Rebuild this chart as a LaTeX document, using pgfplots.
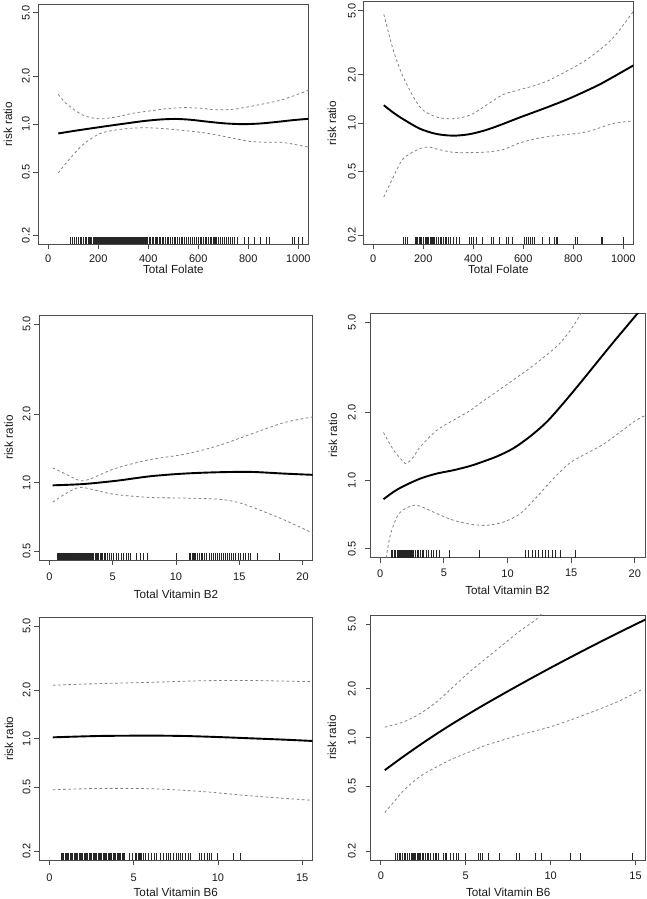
\documentclass[border=0pt]{standalone}
\usepackage{pgfplots}
\pgfplotsset{compat=1.18}
\usepackage{fontspec}
\setmainfont{Liberation Sans}
\pgfplotsset{
  myrrbase/.style={
    scale only axis, yminorticks=false, xminorticks=false,
    tick align=outside, major tick length=5bp,
    xtick pos=bottom, ytick pos=left,
    axis line style={black!70, line width=0.8bp},
    every tick/.style={black!70, line width=0.8bp},
    tick label style={font=\fontsize{11bp}{13bp}\selectfont, text=black!90},
    xticklabel style={anchor=north, inner sep=0pt},
    yticklabel style={rotate=90, anchor=south, inner sep=0pt},
    label style={font=\fontsize{11.7bp}{14bp}\selectfont, text=black!90},
    ylabel={risk ratio},
    clip=true,
  },
  myxlab/.style={xlabel style={at={([yshift=-#1]axis description cs:0.5,0)}, anchor=north, inner sep=0pt}},
  myylab/.style={ylabel style={at={([xshift=-#1]axis description cs:0,0.5)}, anchor=center, inner sep=0pt}},
  myfitline/.style={black, line width=1.9bp, smooth, no marks},
  myciline/.style={black!50, line width=0.8bp, dash pattern=on 2.6bp off 2.6bp, smooth, no marks},
  myrugmarks/.style={only marks, mark=|, mark size=3.6bp, mark options={black!85, line width=0.6bp}},
}
\begin{document}
\begin{tikzpicture}
\useasboundingbox (0,0) rectangle (647bp,899bp);
% ---------- Panel 1 ----------
\begin{axis}[ymode=log, myrrbase, at={(38.3bp,654.7bp)}, anchor=south west, width=270bp, height=240.3bp,
  ymin=0.17585, ymax=5.6866, ytick={0.2,0.5,1,2,5}, yticklabels={0.2,0.5,1.0,2.0,5.0},
  xmin=-40, xmax=1040, xtick={0,200,400,600,800,1000}, xticklabels={0,200,400,600,800,1000},
  xlabel={Total Folate}, myxlab=21bp, myylab=30.3bp, xticklabel shift=5bp, yticklabel shift=3.3bp]
\addplot[myciline] coordinates {(40,1.54)(71,1.35)(138,1.14)(205,1.08)(272,1.11)(338,1.17)(405,1.21)(472,1.25)(539,1.27)(606,1.26)(672,1.23)(740,1.24)(806,1.29)(870,1.35)(940,1.43)(1040,1.63)};
\addplot[myciline] coordinates {(40,0.493)(71,0.569)(138,0.742)(205,0.87)(272,0.92)(338,0.944)(405,0.948)(472,0.935)(539,0.913)(606,0.89)(672,0.857)(740,0.815)(806,0.779)(870,0.77)(940,0.767)(1040,0.717)};
\addplot[myfitline] coordinates {(40,0.874)(100,0.905)(170,0.94)(240,0.975)(310,1.01)(380,1.045)(450,1.07)(510,1.078)(570,1.065)(640,1.035)(710,1.01)(780,1.0)(850,1.01)(920,1.035)(980,1.06)(1040,1.08)};
\addplot[myrugmarks] coordinates {(86,0.185)(95,0.185)(104,0.185)(112,0.185)(120,0.185)(126,0.185)(133,0.185)(140,0.185)(146,0.185)(152,0.185)(158,0.185)(163,0.185)(168,0.185)(173,0.185)(178,0.185)(183,0.185)(188,0.185)(192,0.185)(197,0.185)(201,0.185)(205,0.185)(209,0.185)(213,0.185)(217,0.185)(221,0.185)(225,0.185)(229,0.185)(233,0.185)(237,0.185)(241,0.185)(245,0.185)(249,0.185)(253,0.185)(257,0.185)(261,0.185)(265,0.185)(269,0.185)(273,0.185)(277,0.185)(281,0.185)(285,0.185)(289,0.185)(293,0.185)(297,0.185)(301,0.185)(305,0.185)(309,0.185)(313,0.185)(317,0.185)(321,0.185)(325,0.185)(329,0.185)(333,0.185)(337,0.185)(341,0.185)(345,0.185)(349,0.185)(353,0.185)(357,0.185)(361,0.185)(365,0.185)(369,0.185)(373,0.185)(377,0.185)(381,0.185)(385,0.185)(389,0.185)(393,0.185)(397,0.185)(402,0.185)(408,0.185)(414,0.185)(420,0.185)(426,0.185)(431,0.185)(437,0.185)(443,0.185)(449,0.185)(455,0.185)(461,0.185)(468,0.185)(475,0.185)(481,0.185)(488,0.185)(495,0.185)(502,0.185)(508,0.185)(515,0.185)(522,0.185)(530,0.185)(537,0.185)(545,0.185)(552,0.185)(560,0.185)(568,0.185)(575,0.185)(583,0.185)(590,0.185)(598,0.185)(606,0.185)(613,0.185)(620,0.185)(627,0.185)(633,0.185)(640,0.185)(646,0.185)(652,0.185)(658,0.185)(663,0.185)(668,0.185)(673,0.185)(680,0.185)(688,0.185)(695,0.185)(703,0.185)(710,0.185)(718,0.185)(726,0.185)(735,0.185)(745,0.185)(755,0.185)(785,0.185)(800,0.185)(822,0.185)(848,0.185)(870,0.185)(882,0.185)(975,0.185)(985,0.185)(1000,0.185)(1017,0.185)};
\end{axis}
% ---------- Panel 2 ----------
\begin{axis}[ymode=log, myrrbase, at={(363.3bp,654.7bp)}, anchor=south west, width=270bp, height=242.6bp,
  ymin=0.17585, ymax=5.6866, ytick={0.2,0.5,1,2,5}, yticklabels={0.2,0.5,1.0,2.0,5.0},
  xmin=-40, xmax=1040, xtick={0,200,400,600,800,1000}, xticklabels={0,200,400,600,800,1000},
  xlabel={Total Folate}, myxlab=21bp, myylab=31.3bp, xticklabel shift=5bp, yticklabel shift=2.3bp]
\addplot[myciline] coordinates {(42,4.75)(80,2.84)(120,1.93)(186,1.26)(252,1.09)(319,1.064)(385,1.116)(452,1.29)(518,1.50)(584,1.61)(651,1.72)(717,1.89)(850,2.46)(956,3.35)(1040,4.95)};
\addplot[myciline] coordinates {(42,0.346)(80,0.461)(120,0.60)(186,0.692)(226,0.708)(252,0.689)(319,0.657)(385,0.654)(452,0.659)(518,0.682)(584,0.75)(651,0.799)(717,0.83)(850,0.879)(956,0.99)(1040,1.03)};
\addplot[myfitline] coordinates {(42,1.29)(80,1.16)(120,1.055)(186,0.922)(252,0.855)(319,0.834)(385,0.852)(452,0.905)(518,0.985)(584,1.08)(651,1.18)(717,1.29)(784,1.42)(850,1.58)(903,1.73)(956,1.92)(1040,2.28)};
\addplot[myrugmarks] coordinates {(120,0.185)(126,0.185)(135,0.185)(169,0.185)(173,0.185)(177,0.185)(182,0.185)(186,0.185)(193,0.185)(199,0.185)(206,0.185)(210,0.185)(215,0.185)(220,0.185)(226,0.185)(230,0.185)(235,0.185)(239,0.185)(243,0.185)(252,0.185)(259,0.185)(266,0.185)(272,0.185)(279,0.185)(286,0.185)(292,0.185)(299,0.185)(308,0.185)(319,0.185)(332,0.185)(343,0.185)(385,0.185)(392,0.185)(398,0.185)(412,0.185)(434,0.185)(471,0.185)(481,0.185)(505,0.185)(531,0.185)(538,0.185)(555,0.185)(604,0.185)(611,0.185)(618,0.185)(627,0.185)(635,0.185)(644,0.185)(677,0.185)(704,0.185)(724,0.185)(730,0.185)(737,0.185)(807,0.185)(817,0.185)(910,0.185)(916,0.185)(1000,0.185)};
\end{axis}
% ---------- Panel 3 ----------
\begin{axis}[ymode=log, myrrbase, at={(39.3bp,339bp)}, anchor=south west, width=273.4bp, height=245bp,
  ymin=0.45599, ymax=5.4828, ytick={0.5,1,2,5}, yticklabels={0.5,1.0,2.0,5.0},
  xmin=-0.8, xmax=20.8, xtick={0,5,10,15,20}, xticklabels={0,5,10,15,20},
  xlabel={Total Vitamin B2}, myxlab=30bp, myylab=30.6bp, xticklabel shift=8bp, yticklabel shift=3.6bp]
\addplot[myciline] coordinates {(0.26,1.162)(1.37,1.085)(2.43,1.02)(3.22,1.038)(4.02,1.085)(5.34,1.162)(7.98,1.265)(10.62,1.332)(13.26,1.45)(15.9,1.635)(18.55,1.84)(20.85,1.95)};
\addplot[myciline] coordinates {(0.26,0.82)(1.37,0.90)(2.43,0.953)(4.02,0.915)(5.34,0.885)(7.98,0.86)(10.62,0.855)(13.26,0.846)(14.58,0.826)(15.9,0.785)(18.55,0.685)(20.85,0.597)};
\addplot[myfitline] coordinates {(0.26,0.973)(2.7,0.986)(5.34,1.02)(7.98,1.067)(10.62,1.096)(13.26,1.111)(15.9,1.115)(18.55,1.096)(20.85,1.082)};
\addplot[myrugmarks] coordinates {(0.6,0.473)(0.66,0.473)(0.72,0.473)(0.78,0.473)(0.84,0.473)(0.9,0.473)(0.96,0.473)(1.02,0.473)(1.08,0.473)(1.14,0.473)(1.2,0.473)(1.26,0.473)(1.32,0.473)(1.38,0.473)(1.44,0.473)(1.5,0.473)(1.56,0.473)(1.62,0.473)(1.68,0.473)(1.74,0.473)(1.8,0.473)(1.86,0.473)(1.92,0.473)(1.98,0.473)(2.04,0.473)(2.1,0.473)(2.16,0.473)(2.22,0.473)(2.28,0.473)(2.34,0.473)(2.4,0.473)(2.46,0.473)(2.52,0.473)(2.6,0.473)(2.68,0.473)(2.76,0.473)(2.84,0.473)(2.92,0.473)(3.0,0.473)(3.08,0.473)(3.16,0.473)(3.24,0.473)(3.32,0.473)(3.4,0.473)(3.5,0.473)(3.6,0.473)(3.7,0.473)(3.8,0.473)(3.9,0.473)(4.0,0.473)(4.1,0.473)(4.2,0.473)(4.3,0.473)(4.45,0.473)(4.6,0.473)(4.75,0.473)(4.9,0.473)(5.05,0.473)(5.25,0.473)(5.47,0.473)(5.65,0.473)(5.86,0.473)(6.07,0.473)(6.26,0.473)(6.39,0.473)(6.9,0.473)(7.2,0.473)(7.45,0.473)(7.77,0.473)(10.0,0.473)(11.07,0.473)(11.15,0.473)(11.25,0.473)(11.35,0.473)(11.45,0.473)(11.55,0.473)(11.7,0.473)(11.85,0.473)(12.0,0.473)(12.1,0.473)(12.25,0.473)(12.4,0.473)(12.6,0.473)(12.8,0.473)(12.95,0.473)(13.1,0.473)(13.3,0.473)(13.45,0.473)(13.6,0.473)(13.75,0.473)(13.9,0.473)(14.05,0.473)(14.2,0.473)(14.35,0.473)(14.5,0.473)(14.7,0.473)(14.9,0.473)(15.1,0.473)(15.3,0.473)(15.5,0.473)(15.7,0.473)(15.9,0.473)(16.4,0.473)(18.2,0.473)};
\end{axis}
% ---------- Panel 4 ----------
\begin{axis}[ymode=log, myrrbase, at={(370bp,341.3bp)}, anchor=south west, width=275bp, height=244.4bp,
  ymin=0.45599, ymax=5.4828, ytick={0.5,1,2,5}, yticklabels={0.5,1.0,2.0,5.0},
  xmin=-0.8, xmax=20.8, xtick={0,5,10,15,20}, xticklabels={0,5,10,15,20},
  xlabel={Total Vitamin B2}, myxlab=28.5bp, myylab=37bp, xticklabel shift=6.5bp, yticklabel shift=9bp]
\addplot[myciline] coordinates {(0.26,1.63)(1.05,1.363)(1.83,1.21)(2.1,1.19)(2.62,1.273)(3.15,1.41)(4.46,1.67)(5.77,1.85)(7.08,2.04)(7.86,2.20)(9.2,2.48)(10.48,2.79)(11.8,3.15)(13.1,3.60)(14.0,3.98)(14.68,4.41)(15.2,4.85)(15.72,5.41)(16.0,5.8)};
\addplot[myciline] coordinates {(0.47,0.455)(0.79,0.573)(1.31,0.69)(1.83,0.744)(2.62,0.777)(3.15,0.77)(4.46,0.714)(5.77,0.667)(7.08,0.641)(8.39,0.634)(9.7,0.656)(11.0,0.714)(12.3,0.846)(13.6,1.02)(14.94,1.2)(16.25,1.32)(17.56,1.45)(18.87,1.64)(20.05,1.84)(20.84,1.94)};
\addplot[myfitline] coordinates {(0.26,0.827)(1.05,0.891)(1.83,0.944)(3.15,1.02)(4.46,1.074)(5.77,1.111)(7.08,1.16)(7.86,1.20)(9.2,1.28)(10.48,1.39)(11.8,1.57)(13.1,1.82)(14.4,2.20)(15.72,2.70)(17.03,3.33)(18.34,4.10)(19.65,5.02)(20.9,6.1)};
\addplot[myrugmarks] coordinates {(0.84,0.473)(0.97,0.473)(1.10,0.473)(1.21,0.473)(1.31,0.473)(1.39,0.473)(1.47,0.473)(1.55,0.473)(1.63,0.473)(1.70,0.473)(1.78,0.473)(1.83,0.473)(1.89,0.473)(1.94,0.473)(1.99,0.473)(2.04,0.473)(2.10,0.473)(2.18,0.473)(2.25,0.473)(2.36,0.473)(2.44,0.473)(2.54,0.473)(2.62,0.473)(2.75,0.473)(2.88,0.473)(3.01,0.473)(3.15,0.473)(3.28,0.473)(3.41,0.473)(3.62,0.473)(3.80,0.473)(4.01,0.473)(4.19,0.473)(4.40,0.473)(4.67,0.473)(5.45,0.473)(7.81,0.473)(11.40,0.473)(11.66,0.473)(11.93,0.473)(12.19,0.473)(12.45,0.473)(12.71,0.473)(12.97,0.473)(13.24,0.473)(13.50,0.473)(13.76,0.473)(14.15,0.473)(15.33,0.473)};
\end{axis}
% ---------- Panel 5 ----------
\begin{axis}[ymode=log, myrrbase, at={(39.3bp,39bp)}, anchor=south west, width=273bp, height=242.7bp,
  ymin=0.17585, ymax=5.6866, ytick={0.2,0.5,1,2,5}, yticklabels={0.2,0.5,1.0,2.0,5.0},
  xmin=-0.6, xmax=15.6, xtick={0,5,10,15}, xticklabels={0,5,10,15},
  xlabel={Total Vitamin B6}, myxlab=28bp, myylab=30.3bp, xticklabel shift=9bp, yticklabel shift=3.6bp]
\addplot[myciline] coordinates {(0.2,2.15)(2.98,2.20)(5.96,2.24)(8.94,2.29)(11.92,2.30)(15.64,2.26)};
\addplot[myciline] coordinates {(0.2,0.481)(2.98,0.49)(5.96,0.488)(8.94,0.47)(11.92,0.441)(15.64,0.413)};
\addplot[myfitline] coordinates {(0.2,1.019)(2.98,1.039)(5.96,1.044)(7.95,1.039)(9.93,1.024)(11.92,1.005)(13.9,0.986)(15.64,0.967)};
\addplot[myrugmarks] coordinates {(0.7,0.185)(0.775,0.185)(0.85,0.185)(0.925,0.185)(1.0,0.185)(1.075,0.185)(1.15,0.185)(1.225,0.185)(1.3,0.185)(1.375,0.185)(1.45,0.185)(1.525,0.185)(1.6,0.185)(1.675,0.185)(1.75,0.185)(1.825,0.185)(1.9,0.185)(1.975,0.185)(2.05,0.185)(2.125,0.185)(2.2,0.185)(2.275,0.185)(2.35,0.185)(2.425,0.185)(2.5,0.185)(2.575,0.185)(2.65,0.185)(2.725,0.185)(2.8,0.185)(2.875,0.185)(2.95,0.185)(3.025,0.185)(3.1,0.185)(3.175,0.185)(3.25,0.185)(3.325,0.185)(3.4,0.185)(3.475,0.185)(3.55,0.185)(3.625,0.185)(3.7,0.185)(3.775,0.185)(3.85,0.185)(3.925,0.185)(4.0,0.185)(4.075,0.185)(4.15,0.185)(4.225,0.185)(4.3,0.185)(4.375,0.185)(4.45,0.185)(4.77,0.185)(4.93,0.185)(5.07,0.185)(5.17,0.185)(5.27,0.185)(5.32,0.185)(5.40,0.185)(5.48,0.185)(5.56,0.185)(5.70,0.185)(5.86,0.185)(6.06,0.185)(6.20,0.185)(6.36,0.185)(6.56,0.185)(6.76,0.185)(6.95,0.185)(7.05,0.185)(7.19,0.185)(7.35,0.185)(7.51,0.185)(7.65,0.185)(7.75,0.185)(7.91,0.185)(8.05,0.185)(8.25,0.185)(8.34,0.185)(8.90,0.185)(9.04,0.185)(9.18,0.185)(9.34,0.185)(9.50,0.185)(9.60,0.185)(9.99,0.185)(10.93,0.185)(11.33,0.185)};
\end{axis}
% ---------- Panel 6 ----------
\begin{axis}[ymode=log, myrrbase, at={(370.7bp,39bp)}, anchor=south west, width=275bp, height=245bp,
  ymin=0.17585, ymax=5.6866, ytick={0.2,0.5,1,2,5}, yticklabels={0.2,0.5,1.0,2.0,5.0},
  xmin=-0.6, xmax=15.6, xtick={0,5,10,15}, xticklabels={0,5,10,15},
  xlabel={Total Vitamin B6}, myxlab=28bp, myylab=38.7bp, xticklabel shift=7bp, yticklabel shift=9.7bp]
\addplot[myciline] coordinates {(0.23,1.158)(1.35,1.249)(2.32,1.406)(3.29,1.66)(4.26,2.05)(5.23,2.54)(6.19,3.07)(7.16,3.71)(8.13,4.48)(9.1,5.29)(9.39,5.69)(9.6,5.9)};
\addplot[myciline] coordinates {(0.23,0.345)(0.77,0.401)(1.35,0.473)(2.32,0.577)(3.29,0.659)(4.26,0.742)(5.23,0.816)(6.19,0.897)(7.16,0.963)(8.13,1.034)(10.06,1.17)(12.0,1.38)(13.93,1.66)(15.39,1.98)};
\addplot[myfitline] coordinates {(0.23,0.629)(1.2,0.747)(2.17,0.880)(3.14,1.030)(4.11,1.196)(5.08,1.379)(6.05,1.584)(7.02,1.810)(7.99,2.064)(8.96,2.348)(9.93,2.665)(10.9,3.017)(11.87,3.409)(12.84,3.843)(13.81,4.323)(14.78,4.851)(15.6,5.342)};
\addplot[myrugmarks] coordinates {(0.87,0.185)(0.97,0.185)(1.06,0.185)(1.16,0.185)(1.26,0.185)(1.35,0.185)(1.45,0.185)(1.55,0.185)(1.65,0.185)(1.70,0.185)(1.78,0.185)(1.84,0.185)(1.90,0.185)(1.97,0.185)(2.03,0.185)(2.13,0.185)(2.19,0.185)(2.26,0.185)(2.32,0.185)(2.42,0.185)(2.52,0.185)(2.61,0.185)(2.71,0.185)(2.81,0.185)(2.90,0.185)(3.10,0.185)(3.19,0.185)(3.29,0.185)(3.39,0.185)(3.68,0.185)(3.77,0.185)(3.87,0.185)(4.06,0.185)(4.26,0.185)(4.45,0.185)(4.55,0.185)(4.97,0.185)(5.71,0.185)(5.84,0.185)(6.00,0.185)(6.33,0.185)(6.97,0.185)(7.99,0.185)(8.13,0.185)(9.10,0.185)(9.44,0.185)(11.13,0.185)(11.77,0.185)(14.81,0.185)};
\end{axis}
\end{tikzpicture}
\end{document}
